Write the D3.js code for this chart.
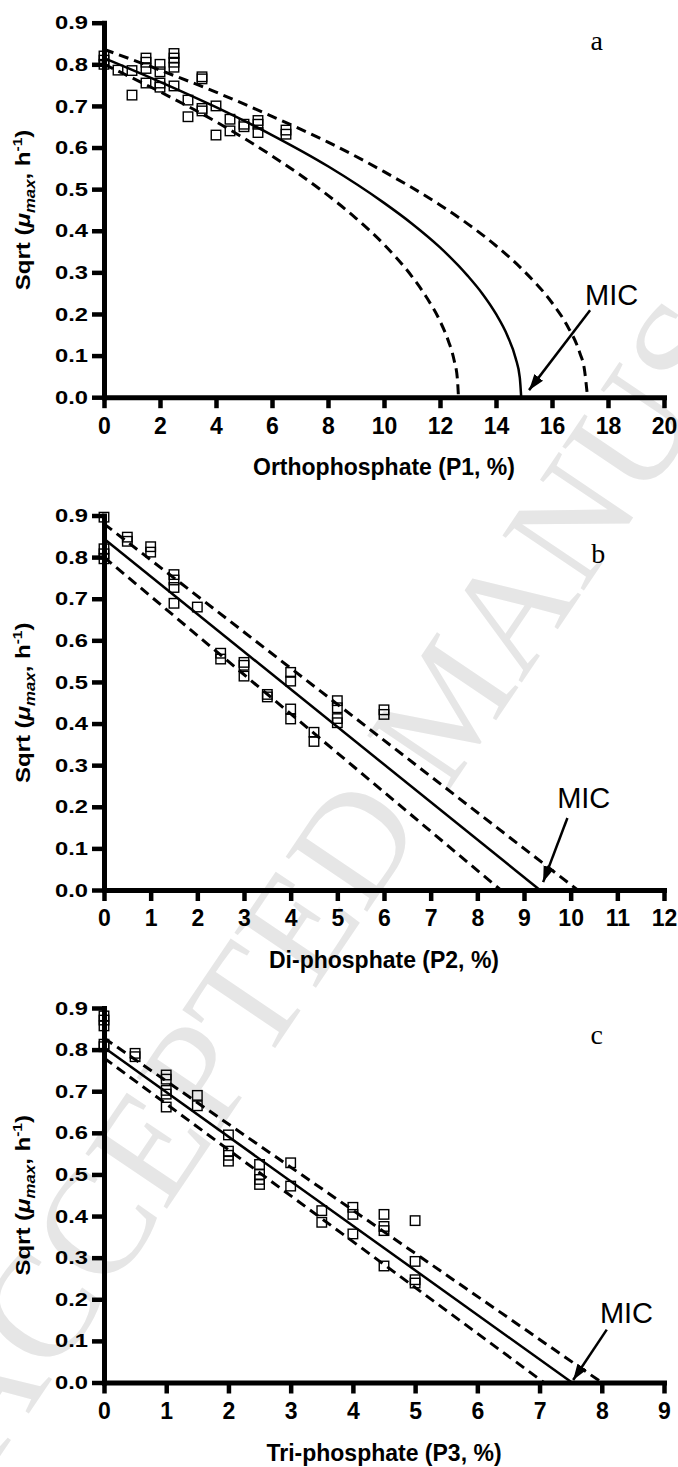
<!DOCTYPE html>
<html>
<head>
<meta charset="utf-8">
<script src="https://cdn.jsdelivr.net/npm/d3@7"></script>
<style>
body{margin:0;background:#fff}
text{font-family:"Liberation Sans",Arial,sans-serif}
</style>
</head>
<body>
<script>
// ---- panel a : orthophosphate ----
var ptsAX=[0,0,0,0.5,1,1,1.5,1.5,1.5,1.5,2,2,2,2,2.5,2.5,2.5,2.5,2.5,3,3,3.5,3.5,3.5,3.5,4,4,4.5,4.5,5,5,5.5,5.5,5.5,6.5,6.5];
var ptsAY=[0.82,0.81,0.80,0.786,0.785,0.726,0.815,0.805,0.79,0.755,0.80,0.782,0.755,0.745,0.826,0.815,0.805,0.793,0.748,0.714,0.674,0.770,0.765,0.694,0.688,0.700,0.630,0.668,0.640,0.656,0.650,0.665,0.656,0.636,0.642,0.632];
var fitA=[[0,0.815],[2,0.758],[4,0.697],[6,0.630],[8,0.555],[10,0.467],[11,0.417],[12,0.360],[13,0.291],[13.5,0.250],[14,0.200],[14.4,0.149],[14.7,0.094],[14.85,0.047],[14.9,0]];
var upA=[[0,0.836],[2,0.786],[4,0.733],[6,0.675],[8,0.613],[10,0.542],[12,0.462],[13,0.416],[14,0.364],[15,0.303],[16,0.227],[16.5,0.177],[17,0.105],[17.15,0.070],[17.27,0]];
var loA=[[0,0.800],[2,0.734],[4,0.662],[6,0.580],[8,0.485],[9,0.430],[10,0.367],[11,0.290],[11.5,0.242],[12,0.183],[12.3,0.135],[12.5,0.090],[12.62,0.045],[12.66,0]];

// ---- panel b : di-phosphate ----
var ptsBX=[0,0,0,0,0.5,0.5,1,1,1.5,1.5,1.5,1.5,2,2.5,2.5,3,3,3,3.5,3.5,4,4,4,4,4.5,4.5,5,5,5,5,6,6];
var ptsBY=[0.896,0.820,0.808,0.796,0.848,0.838,0.825,0.812,0.758,0.745,0.727,0.689,0.680,0.569,0.555,0.547,0.540,0.514,0.470,0.464,0.523,0.502,0.435,0.411,0.379,0.357,0.455,0.438,0.412,0.402,0.433,0.422];
var fitB=[[0,0.844],[9.34,0]];
var upB=[[0,0.880],[10.15,0]];
var loB=[[0,0.800],[8.5,0]];

// ---- panel c : tri-phosphate ----
var ptsCX=[0,0,0,0,0,0.5,0.5,1,1,1,1,1,1.5,1.5,2,2,2,2,2.5,2.5,2.5,2.5,3,3,3.5,3.5,4,4,4,4.5,4.5,4.5,4.5,5,5,5,5];
var ptsCY=[0.881,0.871,0.857,0.813,0.807,0.791,0.783,0.739,0.729,0.702,0.693,0.662,0.690,0.665,0.595,0.556,0.546,0.532,0.524,0.500,0.488,0.476,0.528,0.472,0.413,0.385,0.421,0.404,0.357,0.404,0.375,0.365,0.280,0.389,0.291,0.247,0.239];
var fitC=[[0,0.805],[7.52,0]];
var upC=[[0,0.828],[8.0,0]];
var loC=[[0,0.780],[7.07,0]];

var xTicksA=d3.range(0,21,2), xTicksB=d3.range(0,13,1), xTicksC=d3.range(0,10,1);
var yTicks=d3.range(0,10).map(function(i){return i/10;});
var xTitles=["Orthophosphate (P1, %)","Di-phosphate (P2, %)","Tri-phosphate (P3, %)"];
var letters=["a","b","c"];
// annotation anchors in data units: panel letter, MIC text, arrow start and tip
var letterPos=[[17.6,0.834],[10.59,0.786],[7.92,0.813]];
var micText=[[17.18,0.221],[9.71,0.197],[7.97,0.144]];
var micFrom=[[17.36,0.209],[9.93,0.173],[8.08,0.127]];
var micTo=[[15.18,0.017],[9.41,0.019],[7.54,0.006]];

var svg=d3.select("body").append("svg").attr("width",678).attr("height",1467);

// watermark
svg.append("text")
   .attr("transform","translate(-8,1468) rotate(-56)")
   .style("font-family","'Liberation Serif','Times New Roman',serif")
   .style("font-size","150px")
   .attr("fill","#e6e6e6")
   .text("ACCEPTED MANUSCRIPT");

var defs=svg.append("defs");
defs.append("marker").attr("id","arr")
    .attr("markerUnits","userSpaceOnUse")
    .attr("markerWidth",18).attr("markerHeight",12)
    .attr("refX",16).attr("refY",5.5).attr("orient","auto")
    .append("path").attr("d","M0,0L16,5.5L0,11Z").attr("fill","#000");

var panels=[
  {top:22.7, xMax:20, ticks:xTicksA, px:ptsAX, py:ptsAY, fit:fitA, up:upA, lo:loA, curve:d3.curveMonotoneX},
  {top:515.5, xMax:12, ticks:xTicksB, px:ptsBX, py:ptsBY, fit:fitB, up:upB, lo:loB, curve:d3.curveLinear},
  {top:1008, xMax:9, ticks:xTicksC, px:ptsCX, py:ptsCY, fit:fitC, up:upC, lo:loC, curve:d3.curveLinear}
];

panels.forEach(function(p,i){
  var x=d3.scaleLinear().domain([0,p.xMax]).range([104,664]);
  var y=d3.scaleLinear().domain([0,0.9]).range([p.top+374.5,p.top]);
  var g=svg.append("g");

  var xa=g.append("g").attr("transform","translate(0,"+y(0)+")")
     .call(d3.axisBottom(x).tickValues(p.ticks).tickSize(11).tickSizeOuter(0).tickPadding(9).tickFormat(d3.format("d")));
  var ya=g.append("g").attr("transform","translate(104,0)")
     .call(d3.axisLeft(y).tickValues(yTicks).tickSize(12).tickSizeOuter(0).tickPadding(3).tickFormat(d3.format(".1f")));
  [xa,ya].forEach(function(a){
    a.select(".domain").attr("stroke-width",5).attr("stroke-linecap","square");
    a.selectAll(".tick line").attr("stroke-width",4.5);
    a.selectAll("text").attr("fill","#000")
     .style("font-family","'Liberation Sans',Arial,sans-serif").style("font-weight","bold");
  });
  xa.selectAll("text").style("font-size","23px");
  ya.selectAll("text").style("font-size","19px").attr("x",0)
    .attr("transform","translate(-16,0) scale(1.25,1)");

  // x title
  g.append("text").attr("x",384).attr("y",y(0)+78).attr("text-anchor","middle")
   .style("font-size","23px").style("font-weight","bold").text(xTitles[i]);

  // y title
  var yt=g.append("text")
     .attr("transform","translate(30,"+((y(0)+y(0.9))/2)+") rotate(-90) scale(1.2,1)")
     .attr("text-anchor","middle").style("font-size","20px").style("font-weight","bold");
  yt.append("tspan").text("Sqrt (");
  yt.append("tspan").style("font-style","italic").text("\u03bc");
  yt.append("tspan").style("font-style","italic").style("font-size","14px").attr("dy",5).text("max");
  yt.append("tspan").attr("dy",-5).text(", h");
  yt.append("tspan").style("font-size","13px").attr("dy",-8).text("-1");
  yt.append("tspan").attr("dy",8).text(")");

  // fitted line and confidence bands
  var line=d3.line().x(function(d){return x(d[0]);}).y(function(d){return y(d[1]);}).curve(p.curve);
  g.append("path").attr("d",line(p.up)).attr("fill","none").attr("stroke","#000")
   .attr("stroke-width",3).attr("stroke-dasharray","10,6");
  g.append("path").attr("d",line(p.lo)).attr("fill","none").attr("stroke","#000")
   .attr("stroke-width",3).attr("stroke-dasharray","10,6");
  g.append("path").attr("d",line(p.fit)).attr("fill","none").attr("stroke","#000").attr("stroke-width",2.5);

  // data squares
  g.selectAll("rect.pt").data(p.px).enter().append("rect").attr("class","pt")
   .attr("x",function(d){return x(d)-4.75;})
   .attr("y",function(d,j){return y(p.py[j])-4.75;})
   .attr("width",9.5).attr("height",9.5)
   .attr("fill","none").attr("stroke","#000").attr("stroke-width",1.4);

  // panel letter
  g.append("text").attr("x",x(letterPos[i][0])).attr("y",y(letterPos[i][1])).attr("text-anchor","middle")
   .style("font-family","'Liberation Serif','Times New Roman',serif").style("font-size","28px").text(letters[i]);

  // MIC annotation
  g.append("text").attr("x",x(micText[i][0])).attr("y",y(micText[i][1]))
   .style("font-size","29px").text("MIC");
  g.append("line").attr("x1",x(micFrom[i][0])).attr("y1",y(micFrom[i][1]))
   .attr("x2",x(micTo[i][0])).attr("y2",y(micTo[i][1]))
   .attr("stroke","#000").attr("stroke-width",2.5).attr("marker-end","url(#arr)");
});
</script>
</body>
</html>
